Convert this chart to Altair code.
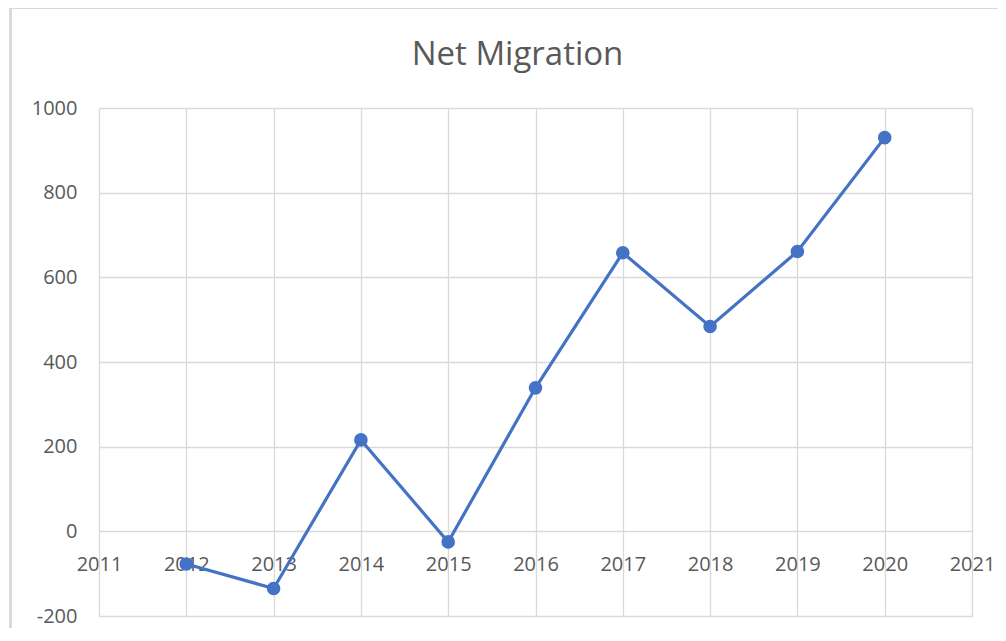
import altair as alt
import pandas as pd

years = [2012, 2013, 2014, 2015, 2016, 2017, 2018, 2019, 2020]
net_migration = [-77, -135, 216, -25, 339, 658, 484, 661, 930]
x_ticks = list(range(2011, 2022))
y_ticks = [-200, 0, 200, 400, 600, 800, 1000]

df = pd.DataFrame({"year": years, "value": net_migration})

W, H = 873, 508
FONT = "Open Sans"
TXT = "#595959"
GRID = "#d9d9d9"
BLUE = "#4472C4"

x_enc = alt.X(
    "year:Q",
    scale=alt.Scale(domain=[2011, 2021], nice=False, zero=False),
    axis=alt.Axis(
        values=x_ticks, format="d", title=None, grid=True, gridColor=GRID,
        gridWidth=1.3, domain=False, ticks=False, tickSize=0,
        labelFont=FONT, labelFontSize=20, labelColor=TXT, labelPadding=23,
        labelFlush=False, labelOverlap=False, offset=-H * 200 / 1200,
    ),
)
y_enc = alt.Y(
    "value:Q",
    scale=alt.Scale(domain=[-200, 1000], nice=False),
    axis=alt.Axis(
        values=y_ticks, title=None, grid=True, gridColor=GRID, gridWidth=1.3,
        domain=False, ticks=False, tickSize=0, labelExpr="'' + datum.value",
        labelFont=FONT, labelFontSize=20, labelColor=TXT, labelPadding=22,
        labelFlush=False, labelOverlap=False,
    ),
)

line = alt.Chart(df).mark_line(
    color=BLUE, strokeWidth=3.2,
    point=alt.OverlayMarkDef(filled=True, size=185, color=BLUE, opacity=1),
).encode(x=x_enc, y=y_enc)

border_left = alt.Chart(df).mark_rule(color=GRID, strokeWidth=2).encode(
    x=alt.value(-88.5), y=alt.value(-101), y2=alt.value(H + 40)
)
border_top = alt.Chart(df).mark_rule(color=GRID, strokeWidth=2).encode(
    x=alt.value(-89.5), x2=alt.value(W + 40), y=alt.value(-100)
)

chart = alt.layer(line, border_left, border_top).properties(
    width=W,
    height=H,
    autosize=alt.AutoSizeParams(type="none"),
    padding={"left": 91, "top": 100, "right": 26, "bottom": 12},
    title=alt.TitleParams(
        "Net Migration", font=FONT, fontSize=33, fontWeight="normal",
        color=TXT, anchor="middle", dx=-18, offset=0, dy=66,
    ),
).configure_view(strokeWidth=0)

chart.save("out.html", embed_options={"renderer": "svg", "actions": False})
